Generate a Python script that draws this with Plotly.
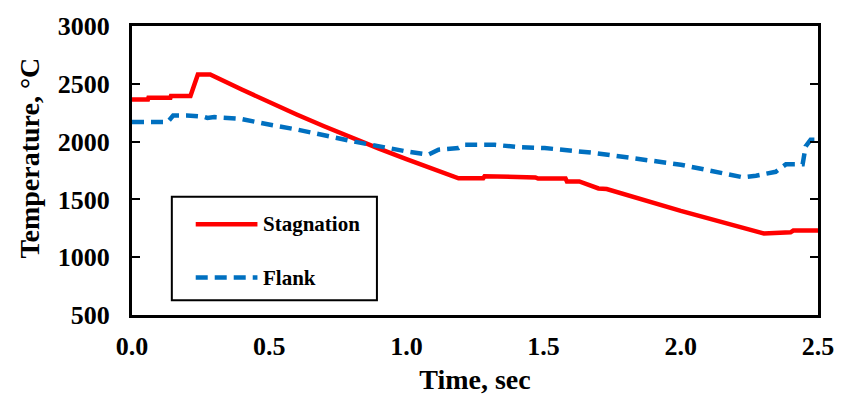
import plotly.graph_objects as go

# Stagnation (red, solid)
stag_t = [0.0, 0.058, 0.06, 0.14, 0.142, 0.213, 0.24, 0.285, 0.4, 0.5, 0.6, 0.7, 0.8, 0.9, 1.0,
          1.1, 1.19, 1.28, 1.285, 1.47, 1.48, 1.58, 1.585, 1.63, 1.70, 1.73, 2.0, 2.303, 2.40,
          2.41, 2.5]
stag_T = [2365, 2365, 2380, 2380, 2394, 2394, 2580, 2580, 2450, 2340, 2235, 2133, 2034, 1939, 1848,
          1760, 1682, 1682, 1700, 1690, 1680, 1680, 1655, 1655, 1595, 1590, 1400, 1205, 1215,
          1230, 1232]

# Flank (blue, dashed)
flank_t = [0.0, 0.13, 0.15, 0.2, 0.26, 0.275, 0.3, 0.394, 0.513, 0.6, 0.81, 0.90, 1.0, 1.08,
           1.117, 1.19, 1.21, 1.323, 1.406, 1.504, 1.576, 1.685, 2.0, 2.227, 2.274, 2.346,
           2.383, 2.444, 2.455, 2.473, 2.5]
flank_T = [2170, 2170, 2226, 2226, 2215, 2204, 2212, 2198, 2141, 2105, 2000, 1958, 1915, 1888,
           1930, 1944, 1972, 1972, 1953, 1944, 1930, 1902, 1800, 1691, 1705, 1739,
           1803, 1803, 1959, 2015, 2015]

x_ticks = [0.0, 0.5, 1.0, 1.5, 2.0, 2.5]
y_ticks = [500, 1000, 1500, 2000, 2500, 3000]

FONT = "Liberation Serif"

fig = go.Figure()
fig.add_trace(go.Scatter(x=stag_t, y=stag_T, mode="lines", name="Stagnation",
                         line=dict(color="#FF0000", width=4.5), showlegend=False))
fig.add_trace(go.Scatter(x=flank_t, y=flank_T, mode="lines", name="Flank",
                         line=dict(color="#0070C0", width=4.5, dash="12px,7px"), showlegend=False))

# manual legend (paper coords)
W, H = 846, 404
L, R, T, B = 132, 25, 22, 89
pw, ph = W - L - R, H - T - B

def px(x):
    return (x - L) / pw

def py(y):
    return 1 - (y - T) / ph

fig.add_shape(type="rect", xref="paper", yref="paper", x0=px(172), x1=px(378), y0=py(300), y1=py(195),
              line=dict(color="black", width=2), fillcolor="white", layer="above")
fig.add_shape(type="line", xref="paper", yref="paper", x0=px(196), x1=px(258), y0=py(223), y1=py(223),
              line=dict(color="#FF0000", width=4.5), layer="above")
fig.add_shape(type="line", xref="paper", yref="paper", x0=px(196), x1=px(258), y0=py(277), y1=py(277),
              line=dict(color="#0070C0", width=4.5, dash="12px,7px"), layer="above")
for name, yy in [("Stagnation", 223), ("Flank", 277)]:
    fig.add_annotation(xref="paper", yref="paper", x=px(262), y=py(yy), text="<b>%s</b>" % name,
                       showarrow=False, xanchor="left", yanchor="middle",
                       font=dict(family=FONT, size=21, color="black"))

# y-axis title (placed as in the reference, slightly above centre)
fig.add_annotation(xref="paper", yref="paper", x=px(29), y=py(156), text="<b>Temperature, °C</b>",
                   textangle=-90, showarrow=False, xanchor="center", yanchor="middle",
                   font=dict(family=FONT, size=28, color="black"))

axis_common = dict(showline=True, linecolor="black", linewidth=3, showgrid=False, zeroline=False,
                   tickfont=dict(family=FONT, size=26, color="black"))

fig.update_xaxes(range=[0, 2.5], tickvals=x_ticks, ticktext=["<b>%.1f</b>" % v for v in x_ticks],
                 mirror=True, ticks="", ticklabelstandoff=6,
                 title=dict(text="<b>Time, sec</b>", font=dict(family=FONT, size=28, color="black"),
                            standoff=10),
                 **axis_common)
fig.update_yaxes(range=[500, 3000], tickvals=y_ticks, ticktext=["<b>%d</b>" % v for v in y_ticks],
                 mirror="ticks", ticks="inside", ticklen=8, tickwidth=2, tickcolor="black",
                 ticklabelstandoff=14,
                 **axis_common)

fig.update_layout(width=W, height=H, margin=dict(l=L, r=R, t=T, b=B),
                  plot_bgcolor="white", paper_bgcolor="white", showlegend=False)

fig.write_html("out.html")
